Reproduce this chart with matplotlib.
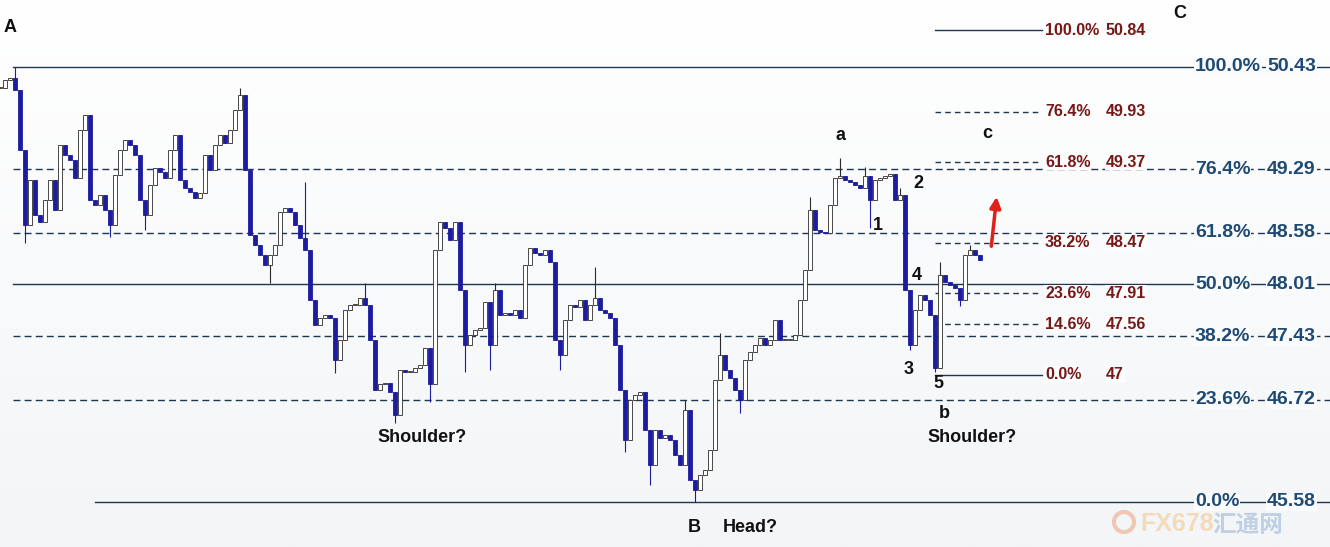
import numpy as np
import matplotlib
matplotlib.use("Agg")
import matplotlib.pyplot as plt

# close price of each bar (left to right)
closes = [
    50.20, 50.29, 50.31, 50.17, 49.50, 48.67, 49.17, 48.78, 48.70, 48.95,
    49.17, 48.84, 49.56, 49.45, 49.39, 49.19, 49.73, 49.90, 48.95, 48.89,
    49.00, 48.84, 48.67, 49.23, 49.50, 49.62, 49.56, 49.45, 48.95, 48.78,
    49.11, 49.30, 49.26, 49.19, 49.50, 49.67, 49.17, 49.08, 49.04, 48.97,
    49.03, 49.45, 49.28, 49.56, 49.67, 49.58, 49.73, 49.95, 50.12, 49.28,
    48.56, 48.45, 48.33, 48.22, 48.33, 48.45, 48.81, 48.86, 48.81, 48.67,
    48.52, 48.39, 47.83, 47.55, 47.63, 47.66, 47.63, 47.16, 47.39, 47.72,
    47.78, 47.78, 47.85, 47.78, 47.39, 46.83, 46.89, 46.91, 46.81, 46.55,
    47.05, 47.03, 47.03, 47.07, 47.11, 47.30, 46.89, 48.39, 48.70, 48.64,
    48.50, 48.70, 47.94, 47.33, 47.44, 47.50, 47.52, 47.81, 47.33, 47.94,
    47.66, 47.69, 47.66, 47.72, 47.63, 48.22, 48.41, 48.36, 48.33, 48.39,
    48.26, 47.39, 47.22, 47.61, 47.78, 47.75, 47.83, 47.61, 47.78, 47.85,
    47.72, 47.69, 47.63, 47.33, 46.83, 46.27, 46.72, 46.77, 46.81, 46.38,
    45.99, 46.38, 46.29, 46.33, 46.27, 46.10, 45.99, 46.61, 45.83, 45.71,
    45.88, 45.94, 46.16, 46.94, 47.22, 47.05, 46.96, 46.83, 46.72, 47.16,
    47.25, 47.33, 47.41, 47.33, 47.39, 47.61, 47.39, 47.39, 47.39, 47.44,
    47.83, 48.17, 48.84, 48.61, 48.59, 48.58, 48.89, 49.19, 49.22, 49.17,
    49.15, 49.11, 49.08, 49.22, 48.95, 49.17, 49.19, 49.22, 49.24, 48.95,
    49.00, 47.94, 47.33, 47.72, 47.89, 47.83, 47.66, 47.07, 48.11, 48.03,
    48.00, 47.97, 47.83, 48.33, 48.39, 48.33, 48.28,
]

# notable wicks: bar index -> (low, high)
wicks = {
    3: (50.17, 50.43), 5: (48.47, 49.50), 22: (48.53, 48.84), 29: (48.61, 48.95),
    48: (49.95, 50.20), 54: (48.02, 48.33), 61: (48.39, 49.15), 67: (47.02, 47.63),
    73: (47.78, 48.02), 79: (46.46, 46.81), 86: (46.70, 47.30), 93: (47.03, 47.94),
    98: (47.05, 47.81), 99: (47.33, 48.02), 112: (47.05, 47.39), 119: (47.78, 48.20),
    125: (46.14, 46.83), 130: (45.77, 46.38), 137: (46.10, 46.72), 139: (45.58, 45.83),
    144: (46.94, 47.46), 148: (46.57, 46.83), 162: (48.17, 48.98), 168: (49.19, 49.42),
    173: (49.08, 49.31), 174: (48.63, 49.22), 180: (48.95, 49.08), 182: (47.27, 47.94),
    187: (47.03, 47.66), 188: (47.07, 48.26), 192: (47.76, 47.97), 194: (48.33, 48.44),
}

# A-B-C retracement (blue labels)
big_pct = ["100.0%", "76.4%", "61.8%", "50.0%", "38.2%", "23.6%", "0.0%"]
big_val = [50.43, 49.29, 48.58, 48.01, 47.43, 46.72, 45.58]
big_solid = [True, False, False, True, False, False, True]

# a-b-c projection (dark red labels)
small_pct = ["100.0%", "76.4%", "61.8%", "38.2%", "23.6%", "14.6%", "0.0%"]
small_val = [50.84, 49.93, 49.37, 48.47, 47.91, 47.56, 47.0]
small_txt = ["50.84", "49.93", "49.37", "48.47", "47.91", "47.56", "47"]
small_solid = [True, False, False, False, False, False, True]

W, H = 1330, 547
STEP = 5  # pixels between bars
line_col = "#1d3651"
up_edge = "#2b2b2b"
down_col = "#1c1ca0"
blue_txt = "#1f4a73"
red_txt = "#761818"
font = ["Liberation Sans", "DejaVu Sans"]

fig = plt.figure(figsize=(W / 100, H / 100), dpi=100)
ax = fig.add_axes([0, 0, 1, 1])
ax.set_xlim(0, W)
ax.set_ylim(45.078, 51.177)
ax.axis("off")

# light background gradient
grad = np.linspace(0, 1, 256).reshape(-1, 1)
ax.imshow(grad, extent=[0, W, 45.078, 51.177], aspect="auto",
          cmap=matplotlib.colors.LinearSegmentedColormap.from_list("bg", ["#f3f5f7", "#ffffff"]),
          origin="lower", zorder=0)

# candles
x = np.arange(len(closes)) * STEP
opens = [closes[0]] + closes[:-1]
for i, (o, c) in enumerate(zip(opens, closes)):
    lo, hi = wicks.get(i, (min(o, c), max(o, c)))
    up = c >= o
    col = up_edge if up else down_col
    ax.vlines(x[i], lo, hi, color=col, lw=0.8, zorder=3)
    h = c - o if abs(c - o) > 0.01 else 0.01
    ax.bar(x[i], h, bottom=o, width=STEP * 0.7,
           color="white" if up else down_col, edgecolor=col, lw=0.6, zorder=4)

# big fib lines
for pct, v, solid in zip(big_pct, big_val, big_solid):
    x0 = 95 if pct == "0.0%" else 13
    ax.plot([x0, W], [v, v], color=line_col, lw=1.0,
            ls="-" if solid else (0, (5, 3)), zorder=2)
    bb = dict(boxstyle="square,pad=0.05", fc="#fafbfc", ec="none")
    ax.text(1195, v, pct, color=blue_txt, fontsize=14, fontweight="bold",
            family=font, ha="left", va="center", bbox=bb, zorder=6)
    ax.text(1267, v, f"{v:.2f}", color=blue_txt, fontsize=14, fontweight="bold",
            family=font, ha="left", va="center", bbox=bb, zorder=6)

# small fib lines
for pct, v, t, solid in zip(small_pct, small_val, small_txt, small_solid):
    ax.plot([935, 1042], [v, v], color=line_col, lw=1.0,
            ls="-" if solid else (0, (4, 3)), zorder=2)
    bb = dict(boxstyle="square,pad=0.05", fc="#fbfcfc", ec="none")
    ax.text(1045, v, pct, color=red_txt, fontsize=11.5, fontweight="bold",
            family=font, ha="left", va="center", bbox=bb, zorder=6)
    ax.text(1106, v, t, color=red_txt, fontsize=11.5, fontweight="bold",
            family=font, ha="left", va="center", bbox=bb, zorder=6)

# annotations in pixel coordinates
tx = fig.add_axes([0, 0, 1, 1])
tx.set_xlim(0, W)
tx.set_ylim(H, 0)
tx.axis("off")
tx.patch.set_alpha(0)

labels = [("A", 10, 28), ("C", 1180, 14), ("a", 840, 135), ("c", 987, 133),
          ("2", 918, 183), ("1", 878, 226), ("4", 917, 275), ("3", 909, 369),
          ("5", 938, 384), ("b", 944, 413), ("B", 694, 527)]
for t, px, py in labels:
    tx.text(px, py, t, fontsize=13, fontweight="bold", family=font,
            ha="center", va="center", color="#111111", zorder=7)
tx.text(377, 438, "Shoulder?", fontsize=13, fontweight="bold", family=font,
        ha="left", va="center", color="#111111")
tx.text(927, 438, "Shoulder?", fontsize=13, fontweight="bold", family=font,
        ha="left", va="center", color="#111111")
tx.text(723, 527, "Head?", fontsize=13, fontweight="bold", family=font,
        ha="left", va="center", color="#111111")

tx.annotate("", xy=(997, 194), xytext=(991, 249),
            arrowprops=dict(arrowstyle="-|>", color="#e0201a", lw=2.5,
                            mutation_scale=16))

# faint watermark, kept just under the 0.0% label
tx.add_patch(plt.Circle((1124, 522), 10, fill=False, ec="#f0b49a", lw=3, alpha=0.7, zorder=1))
tx.text(1140, 524, "FX678", fontsize=18, fontweight="bold", family=font,
        color="#f6cf9f", alpha=0.7, ha="left", va="center", zorder=1)
tx.text(1212, 525, "汇通网", fontsize=17, fontweight="bold",
        family=["Noto Sans CJK SC", "DejaVu Sans"],
        color="#a9c0dc", alpha=0.7, ha="left", va="center", zorder=1)

fig.savefig("out.png", dpi=100)
